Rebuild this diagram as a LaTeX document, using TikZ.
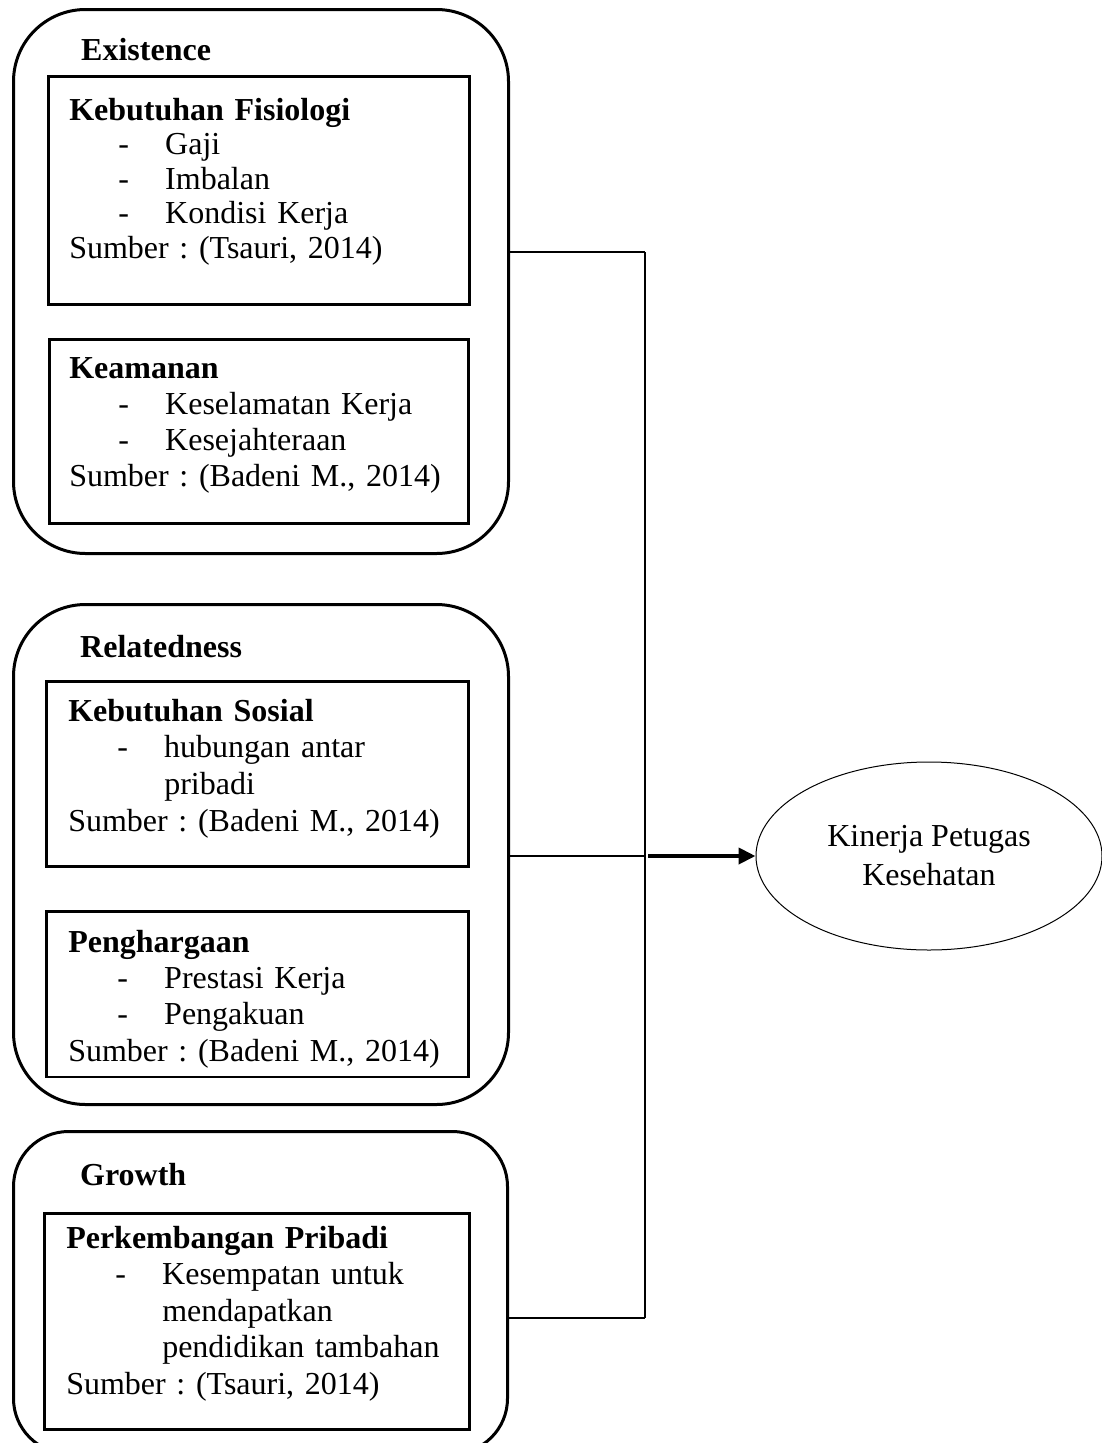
\documentclass[tikz,border=0pt]{standalone}
\usepackage{fontspec}
\setmainfont{Liberation Serif}
\usetikzlibrary{shapes.geometric,arrows.meta}
\frenchspacing

\newcommand{\boxhead}[2]{\rule{0pt}{#1pt}\textbf{#2}}
\newcommand{\boxsrc}[2]{#2\rule[-#1pt]{0pt}{#1pt}}
\newcommand{\dashitem}[1]{\hspace*{49pt}\makebox[47pt][l]{-}#1}
\newcommand{\moreitem}[1]{\hspace*{96pt}#1}

\begin{document}
\begin{tikzpicture}[x=1pt,y=-1pt,
  outer/.style={draw,line width=3pt,rounded corners=#1,anchor=north west,inner sep=0pt},
  outer/.default=72pt,
  head/.style={anchor=base west,inner sep=0pt,font=\bfseries\fontsize{32}{36}\selectfont},
  inner/.style={draw,line width=2.5pt,anchor=north west,align=left,inner xsep=21pt,inner ysep=0pt,
    text width=380pt,font=\fontsize{32}{#1}\selectfont},
  inner/.default=36.5,
  conn/.style={line width=1.5pt},
  arr/.style={line width=4pt,-{Triangle[length=17pt,width=16pt]}}]
  \useasboundingbox (0,0) rectangle (1102,1443);

  \node[outer,minimum width=495pt,minimum height=544pt] (exist) at (12,8) {};
  \node[outer,minimum width=495pt,minimum height=500pt] (relate) at (12,603) {};
  \node[outer=55pt,minimum width=494pt,minimum height=322pt] (grow) at (12,1130) {};

  \node[head] (existhd) at (81,60) {Existence};
  \node[head] (relatehd) at (80,657) {Relatedness};
  \node[head] (growhd) at (80,1185) {Growth};

  \node[inner=34.5,text width=379pt] (fisio) at (47,75)
    {\boxhead{44}{Kebutuhan Fisiologi}\\ \dashitem{Gaji}\\ \dashitem{Imbalan}\\
     \dashitem{Kondisi Kerja}\\ \boxsrc{46}{Sumber : (Tsauri, 2014)}};
  \node[inner=36,text width=379pt,inner xsep=20pt] (aman) at (48,338)
    {\boxhead{39}{Keamanan}\\ \dashitem{Keselamatan Kerja}\\ \dashitem{Kesejahteraan}\\
     \boxsrc{37}{Sumber : (Badeni M., 2014)}};
  \node[inner=36.7,text width=378pt,inner xsep=22pt] (sosial) at (45,680)
    {\boxhead{40}{Kebutuhan Sosial}\\ \dashitem{hubungan antar}\\ \moreitem{pribadi}\\
     \boxsrc{35}{Sumber : (Badeni M., 2014)}};
  \node[inner=36.3,text width=378pt,inner xsep=22pt] (harga) at (45,910)
    {\boxhead{41}{Penghargaan}\\ \dashitem{Prestasi Kerja}\\ \dashitem{Pengakuan}\\
     \boxsrc{16}{Sumber : (Badeni M., 2014)}};
  \node[inner=36.5,text width=381pt,inner xsep=22pt] (pribadi) at (43,1212)
    {\boxhead{35}{Perkembangan Pribadi}\\ \dashitem{Kesempatan untuk}\\ \moreitem{mendapatkan}\\
     \moreitem{pendidikan tambahan}\\ \boxsrc{35}{Sumber : (Tsauri, 2014)}};

  \node[draw,ellipse,line width=1pt,minimum width=346pt,minimum height=188pt,inner sep=0pt,
    align=center,font=\fontsize{32}{39}\selectfont] (kinerja) at (929,856) {Kinerja Petugas\\Kesehatan};

  \coordinate (j1) at (645,252);
  \coordinate (j2) at (645,856);
  \coordinate (j3) at (645,1318);
  \path[conn] (exist.east |- j1) edge (j1)
              (relate.east |- j2) edge (j2)
              (grow.east |- j3) edge (j3)
              (j1) edge (j3);
  %\path[conn] (j2) edge (kinerja.west);
  \draw[arr] ([xshift=3pt]j2) -- (kinerja.west);
\end{tikzpicture}
\end{document}
